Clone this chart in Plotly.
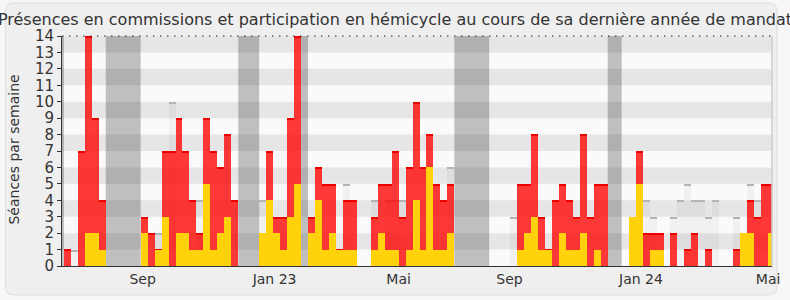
import plotly.graph_objects as go

# weekly values (week index 0..101)
red = [1,0,7,14,9,4,0,0,0,0,0,3,2,1,7,7,9,7,4,2,9,7,6,8,4,0,0,0,2,7,
       3,3,9,14,0,3,6,5,5,1,4,4,0,0,3,5,5,7,3,6,10,6,8,5,4,5,0,0,0,0,
       0,0,0,0,0,5,5,8,3,1,4,5,4,3,8,3,5,5,0,0,0,3,7,2,2,2,0,2,0,1,
       2,0,1,0,0,0,1,2,4,3,5,5]
yellow = [0,0,0,2,2,1,0,0,0,0,0,2,0,1,3,0,2,2,1,1,5,1,2,3,0,0,0,0,2,4,
          2,1,3,5,0,2,4,1,2,1,1,1,0,0,1,2,1,1,0,1,4,1,6,1,1,2,0,0,0,0,
          0,0,0,0,0,1,2,3,1,1,0,2,1,1,2,0,1,0,0,0,0,3,5,0,1,1,0,0,0,0,
          0,0,0,0,0,0,0,2,2,0,0,2]
median = [0,1,0,0,0,0,0,0,0,0,0,0,0,2,0,10,0,0,0,4,0,0,0,0,0,0,0,0,4,0,
          0,0,0,0,0,0,0,0,0,0,5,0,0,0,4,0,4,4,4,0,0,0,0,0,0,6,0,0,0,0,
          0,0,0,0,3,0,0,0,0,0,0,0,0,0,0,0,0,0,0,0,0,0,0,4,3,0,0,3,4,5,
          4,4,3,4,0,0,3,0,5,4,0,0]
vacances = [(-1, 0), (6, 11), (25, 28), (34, 35), (56, 61), (78, 80)]
tick_pos = [11.28, 30.21, 48.0, 63.9, 82.77, 101.0]
tick_txt = ["Sep", "Jan 23", "Mai", "Sep", "Jan 24", "Mai"]

weeks = list(range(len(red)))
xc = [w + 0.5 for w in weeks]
X0, X1 = -0.28, 101.56
L, R, T, B = 62, 10, 36, 34
W, H = 790, 300
pw, ph = W - L - R, H - T - B

def px2x(px):
    return (px - L) / pw

def py2y(py):
    return (H - B - py) / ph

fig = go.Figure()
bw = [1.0] * len(weeks)
# median bars
fig.add_bar(x=xc, y=median, width=bw, marker=dict(color="rgba(0,0,0,0.035)", line_width=0), hoverinfo="skip")
mx = [c for c, m in zip(xc, median) if m > 0]
fig.add_bar(x=mx, y=[0.09] * len(mx), base=[m - 0.09 for m in median if m > 0], width=[1.0] * len(mx),
            marker=dict(color="#b4b4b4", line_width=0), hoverinfo="skip")
# red bars
fig.add_bar(x=xc, y=red, width=bw, marker=dict(color="rgba(255,0,0,0.78)", line_width=0), hoverinfo="skip")
rx = [c for c, r in zip(xc, red) if r > 0]
fig.add_bar(x=rx, y=[0.08] * len(rx), base=[r - 0.08 for r in red if r > 0], width=[1.0] * len(rx),
            marker=dict(color="#ee0000", line_width=0), hoverinfo="skip")
# yellow bars
fig.add_bar(x=xc, y=yellow, width=bw, marker=dict(color="#ffd20c", line_width=0), hoverinfo="skip")

shapes = []
# rounded frame
x0p, x1p, y0p, y1p = px2x(5), px2x(785), py2y(295), py2y(3)
rx_ = 8 / pw
ry_ = 8 / ph
path = (f"M {x0p+rx_},{y1p} L {x1p-rx_},{y1p} Q {x1p},{y1p} {x1p},{y1p-ry_} "
        f"L {x1p},{y0p+ry_} Q {x1p},{y0p} {x1p-rx_},{y0p} L {x0p+rx_},{y0p} "
        f"Q {x0p},{y0p} {x0p},{y0p+ry_} L {x0p},{y1p-ry_} Q {x0p},{y1p} {x0p+rx_},{y1p} Z")
shapes.append(dict(type="path", path=path, xref="paper", yref="paper", layer="below",
                   fillcolor="#efefef", line=dict(color="#dcdcdc", width=1)))
shapes.append(dict(type="rect", xref="paper", yref="paper", x0=0, x1=1, y0=0, y1=1, layer="below",
                   fillcolor="#fafafa", line_width=0))
for a, b in vacances:
    shapes.append(dict(type="rect", xref="x", yref="paper", x0=max(a, X0), x1=b, y0=0, y1=1,
                       layer="below", fillcolor="#bfbfbf", line_width=0))
for k in range(1, 14, 2):
    shapes.append(dict(type="rect", xref="paper", yref="y", x0=0, x1=1, y0=k, y1=k + 1,
                       layer="below", fillcolor="rgba(0,0,0,0.08)", line_width=0))
shapes.append(dict(type="line", xref="paper", yref="paper", x0=1, x1=1, y0=0, y1=1,
                   line=dict(color="#cccccc", width=1.5)))
shapes.append(dict(type="line", xref="paper", yref="paper", x0=0, x1=1, y0=1, y1=1,
                   line=dict(color="#222222", width=1.2, dash="1.5px,5.5px")))

fig.update_layout(
    width=W, height=H, margin=dict(l=L, r=R, t=T, b=B, pad=0),
    paper_bgcolor="#f7f7f7", plot_bgcolor="rgba(0,0,0,0)",
    barmode="overlay", bargap=0, showlegend=False,
    font=dict(family="DejaVu Sans", color="#333333"),
    shapes=shapes,
    title=dict(text="Présences en commissions et participation en hémicycle au cours de sa dernière année de mandat",
               x=0.5, xref="container", xanchor="center", y=1 - 19 / H, yref="container", yanchor="middle",
               font=dict(size=16, color="#333333", family="DejaVu Sans")),
    xaxis=dict(range=[X0, X1], tickmode="array", tickvals=tick_pos, ticktext=tick_txt, ticks="",
               showgrid=False, zeroline=False, showline=True, linecolor="#333333", linewidth=1,
               tickfont=dict(size=14, color="#333333")),
    yaxis=dict(range=[0, 14], tickmode="linear", tick0=0, dtick=1, ticks="outside", ticklen=4,
               tickcolor="#333333", showgrid=False, zeroline=False, showline=True, linecolor="#333333",
               linewidth=1, tickfont=dict(size=15, color="#333333")),
    annotations=[dict(text="Séances par semaine", textangle=-90, xref="paper", yref="paper",
                      x=px2x(13), y=py2y(150), xanchor="center", yanchor="middle", showarrow=False,
                      font=dict(size=14, color="#333333"))],
)
fig.write_html("out.html")
